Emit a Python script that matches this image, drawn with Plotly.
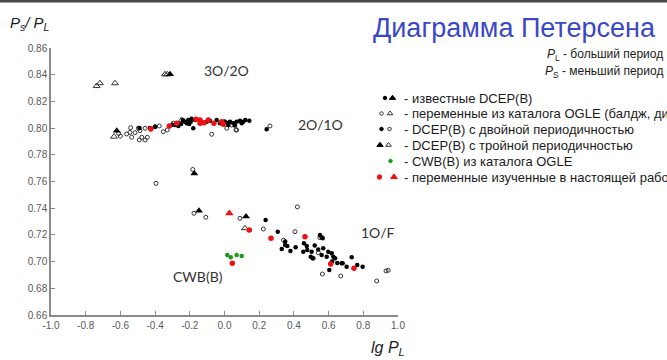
import plotly.graph_objects as go

# ---------------- data ----------------
# known DCEP(B) – filled black dots
dcep_x = [-0.49, -0.43, -0.40, -0.300, -0.285, -0.266, -0.250, -0.240, -0.228, -0.218, -0.209,
          -0.203, -0.195, -0.190, -0.180, -0.170, -0.103, -0.084, -0.045, -0.026, 0.000, 0.013,
          0.022, 0.032, 0.051, 0.060, 0.070, 0.089, 0.099, 0.108, 0.120, 0.143, 0.243,
          0.237, 0.307, 0.330, 0.349, 0.350, 0.362, 0.380, 0.410, 0.454, 0.458, 0.474, 0.477,
          0.497, 0.502, 0.508, 0.520, 0.540, 0.550, 0.560, 0.560, 0.566, 0.569, 0.589, 0.598,
          0.604, 0.618, 0.620, 0.627, 0.637, 0.650, 0.675, 0.681, 0.704, 0.733, 0.765, 0.796]
dcep_y = [0.800, 0.800, 0.801, 0.8025, 0.8023, 0.8016, 0.803, 0.806, 0.8048, 0.8036, 0.8061,
          0.8031, 0.8048, 0.807, 0.7999, 0.8061, 0.8048, 0.8055, 0.8061, 0.8036, 0.805, 0.804,
          0.8023, 0.8048, 0.8036, 0.802, 0.8048, 0.8055, 0.8036, 0.8048, 0.806, 0.8055, 0.7991,
          0.7312, 0.7224, 0.7094, 0.7124, 0.715, 0.7117, 0.708, 0.7107, 0.7074, 0.7137, 0.7117, 0.7087,
          0.7037, 0.7074, 0.7025, 0.712, 0.709, 0.7199, 0.7182, 0.705, 0.7175, 0.710, 0.7037, 0.7074,
          0.6937, 0.7062, 0.700, 0.7037, 0.7025, 0.699, 0.6988, 0.6987, 0.6962, 0.7032, 0.6975, 0.6962]

# OGLE variables – open circles
ogle_x = [-0.610, -0.600, -0.564, -0.545, -0.541, -0.535, -0.516, -0.497, -0.491, -0.487, -0.477,
          -0.458, -0.458, -0.445, -0.401, -0.376, -0.353, -0.330, -0.295, -0.074, 0.013, 0.041,
          0.066, 0.070, 0.262, -0.183, -0.395, -0.176, -0.108, 0.089, 0.224, 0.420, 0.406, 0.340,
          0.541, 0.512, 0.550, 0.564, 0.670, 0.877, 0.931, 0.944]
ogle_y = [0.796, 0.794, 0.7956, 0.7968, 0.8003, 0.7931, 0.7966, 0.7999, 0.7911, 0.7981, 0.7931,
          0.7911, 0.7999, 0.7931, 0.801, 0.8016, 0.7973, 0.7986, 0.8036, 0.7954, 0.7999, 0.8023,
          0.7986, 0.7986, 0.8016, 0.769, 0.7586, 0.7362, 0.7332, 0.7324, 0.7244, 0.741, 0.7224, 0.716,
          0.7067, 0.7025, 0.718, 0.6907, 0.6892, 0.6855, 0.693, 0.6935]

# OGLE triple-mode – open triangles
ogle_tri_x = [-0.737, -0.718, -0.631, -0.343, -0.330, -0.637, -0.247, 0.118]
ogle_tri_y = [0.8315, 0.8336, 0.8336, 0.8403, 0.8403, 0.7936, 0.806, 0.725]

# known DCEP(B) triple-mode – filled triangles
dcep_tri_x = [-0.314, -0.621, -0.174, -0.147, 0.124]
dcep_tri_y = [0.8403, 0.798, 0.766, 0.7381, 0.7337]

# CWB(B) from OGLE – green dots
cwb_x = [0.016, 0.036, 0.070, 0.099]
cwb_y = [0.705, 0.7032, 0.705, 0.7042]

# variables studied in this work – red
red_x = [-0.425, -0.318, -0.276, -0.164, -0.141, -0.141, -0.118, -0.093, -0.061, -0.016, -0.007,
         0.143, 0.045, 0.268, 0.464, 0.612, 0.746]
red_y = [0.7993, 0.8016, 0.8036, 0.8066, 0.8061, 0.8036, 0.8041, 0.8061, 0.8036, 0.8048, 0.8028,
         0.7237, 0.6987, 0.7175, 0.7187, 0.6982, 0.695]
red_tri_x = [0.028]
red_tri_y = [0.7362]

x_ticks = [-1.0, -0.8, -0.6, -0.4, -0.2, 0.0, 0.2, 0.4, 0.6, 0.8, 1.0]
y_ticks = [0.66, 0.68, 0.70, 0.72, 0.74, 0.76, 0.78, 0.80, 0.82, 0.84, 0.86]

legend_labels = [
    "- известные DCEP(B)",
    "- переменные из каталога OGLE (балдж, диск)",
    "- DCEP(B) с двойной периодичностью",
    "- DCEP(B) с тройной периодичностью",
    "- CWB(B) из каталога OGLE",
    "- переменные изученные в настоящей работе",
]

# ---------------- layout geometry ----------------
W, H = 667, 360
L, R, T, B = 51, 269, 48, 45
PW, PH = W - L - R, H - T - B
FONT = "Liberation Sans, Arial, sans-serif"


def px(xp):  # pixel -> paper x
    return (xp - L) / PW


def py(yp):  # pixel -> paper y
    return (H - B - yp) / PH


fig = go.Figure()

fig.add_trace(go.Scatter(x=ogle_x, y=ogle_y, mode="markers",
                         marker=dict(symbol="circle-open", size=4, color="#333333", line=dict(width=1))))
fig.add_trace(go.Scatter(x=ogle_tri_x, y=ogle_tri_y, mode="markers",
                         marker=dict(symbol="triangle-up-open", size=6, color="#333333", line=dict(width=1))))
fig.add_trace(go.Scatter(x=dcep_x, y=dcep_y, mode="markers",
                         marker=dict(symbol="circle", size=4.5, color="#000000")))
fig.add_trace(go.Scatter(x=dcep_tri_x, y=dcep_tri_y, mode="markers",
                         marker=dict(symbol="triangle-up", size=7, color="#000000")))
fig.add_trace(go.Scatter(x=cwb_x, y=cwb_y, mode="markers",
                         marker=dict(symbol="circle", size=4.5, color="#1a9a1a")))
fig.add_trace(go.Scatter(x=red_x, y=red_y, mode="markers",
                         marker=dict(symbol="circle", size=5.5, color="#ee1111")))
fig.add_trace(go.Scatter(x=red_tri_x, y=red_tri_y, mode="markers",
                         marker=dict(symbol="triangle-up", size=7.5, color="#ee1111")))

# legend glyphs on an overlay pixel axis
leg_rows = [98, 113.5, 129, 145, 161, 177]
glyphs = [
    [(385, "circle", "#000", 3.5), (392.5, "triangle-up", "#000", 5.5)],
    [(381.5, "circle-open", "#333", 3.5), (390, "triangle-up-open", "#333", 5)],
    [(381.5, "circle", "#000", 3.5), (389.5, "circle-open", "#333", 3.5)],
    [(380, "triangle-up", "#000", 5.5), (388.5, "triangle-up-open", "#333", 5)],
    [(390.5, "circle", "#1a9a1a", 3.5)],
    [(379.5, "circle", "#ee1111", 4.5), (394, "triangle-up", "#ee1111", 6)],
]
for row_y, row in zip(leg_rows, glyphs):
    for gx, sym, col, sz in row:
        fig.add_trace(go.Scatter(x=[gx], y=[row_y], mode="markers", xaxis="x2", yaxis="y2",
                                 cliponaxis=False, hoverinfo="skip",
                                 marker=dict(symbol=sym, size=sz, color=col, line=dict(width=1, color=col))))

annotations = []
for row_y, lab in zip(leg_rows, legend_labels):
    annotations.append(dict(text=lab, x=px(402), y=py(row_y), xref="paper", yref="paper",
                            xanchor="left", yanchor="middle", showarrow=False,
                            font=dict(family=FONT, size=13, color="#1a1a1a")))

# title and notes
annotations.append(dict(text="Диаграмма Петерсена", x=px(371), y=py(28), xref="paper", yref="paper",
                        xanchor="left", yanchor="middle", showarrow=False,
                        font=dict(family=FONT, size=27, color="#3b48c6")))
annotations.append(dict(text="<i>P</i><sub>L</sub> - больший период", x=px(665), y=py(55),
                        xref="paper", yref="paper", xanchor="right", yanchor="middle", showarrow=False,
                        font=dict(family=FONT, size=12, color="#1a1a1a")))
annotations.append(dict(text="<i>P</i><sub>S</sub> - меньший период", x=px(665), y=py(72),
                        xref="paper", yref="paper", xanchor="right", yanchor="middle", showarrow=False,
                        font=dict(family=FONT, size=12, color="#1a1a1a")))

# mode labels
for txt, xp_, yp_ in [("3O/2O", 226, 70), ("2O/1O", 320, 124), ("1O/F", 378, 232), ("CWB(B)", 198, 276)]:
    annotations.append(dict(text=txt, x=px(xp_), y=py(yp_), xref="paper", yref="paper",
                            xanchor="center", yanchor="middle", showarrow=False,
                            font=dict(family="Lato, sans-serif", size=14, color="#333333")))

# axis titles
annotations.append(dict(text="<i>P<sub>s</sub>/ P<sub>L</sub></i>", x=px(8), y=py(23), xref="paper", yref="paper",
                        xanchor="left", yanchor="middle", showarrow=False,
                        font=dict(family=FONT, size=15, color="#1a1a1a")))
annotations.append(dict(text="<i>lg P<sub>L</sub></i>", x=px(388), y=py(348), xref="paper", yref="paper",
                        xanchor="center", yanchor="middle", showarrow=False,
                        font=dict(family=FONT, size=16, color="#1a1a1a")))

shapes = [dict(type="rect", xref="paper", yref="paper", x0=px(0), x1=px(W), y0=py(2.5), y1=py(0),
               fillcolor="#484848", line=dict(width=0), layer="above")]

fig.update_layout(
    width=W, height=H, margin=dict(l=L, r=R, t=T, b=B, pad=0),
    paper_bgcolor="white", plot_bgcolor="white", showlegend=False,
    annotations=annotations, shapes=shapes,
    xaxis=dict(range=[-1.0, 1.0], tickvals=x_ticks, ticktext=[f"{v:.1f}" for v in x_ticks],
               showgrid=False, zeroline=False, showline=True, linecolor="#8a8a8a", linewidth=1.5,
               ticks="inside", ticklen=4, tickcolor="#8a8a8a",
               tickfont=dict(family=FONT, size=10, color="#595959")),
    yaxis=dict(range=[0.66, 0.86], tickvals=y_ticks, ticktext=[f"{v:.2f}" for v in y_ticks],
               showgrid=False, zeroline=False, showline=True, linecolor="#8a8a8a", linewidth=1.5,
               ticks="inside", ticklen=4, tickcolor="#8a8a8a",
               tickfont=dict(family=FONT, size=10, color="#595959")),
    xaxis2=dict(range=[L, L + PW], overlaying="x", visible=False, fixedrange=True),
    yaxis2=dict(range=[H - B, T], overlaying="y", visible=False, fixedrange=True),
)

fig.write_html("out.html")
